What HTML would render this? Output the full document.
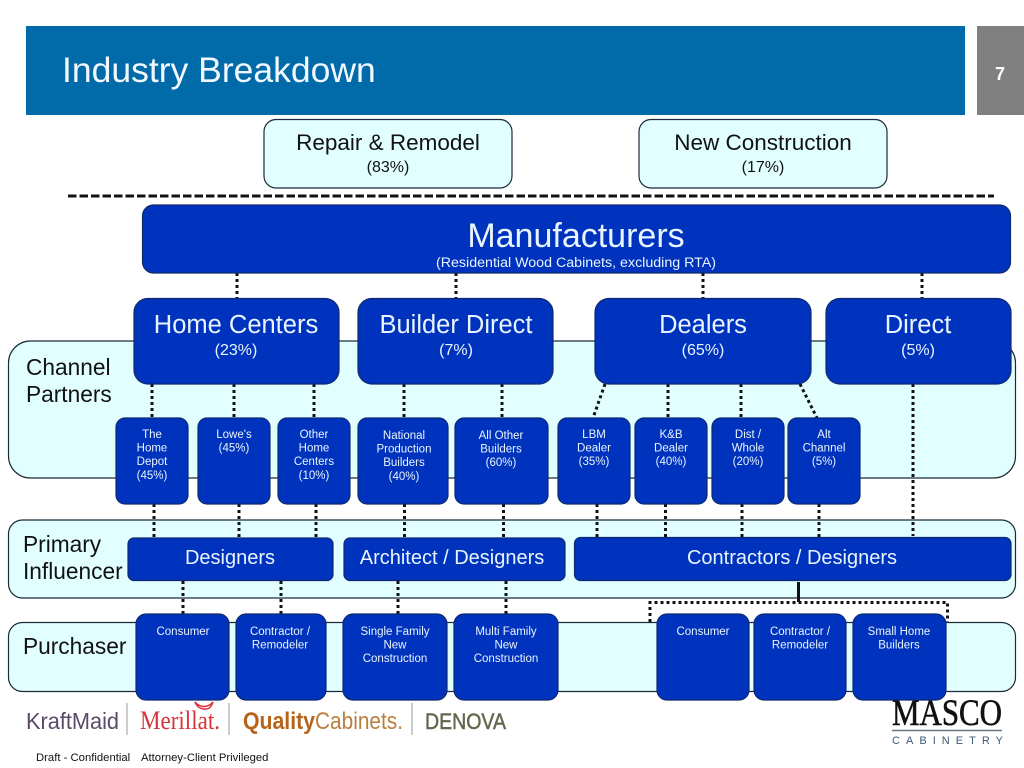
<!DOCTYPE html>
<html><head><meta charset="utf-8"><style>
html,body{margin:0;padding:0;background:#fff}
svg{display:block}
text{font-family:"Liberation Sans",sans-serif}
.b{fill:#0033bd;stroke:#0d2a6e;stroke-width:1.2}
.l{fill:#e2ffff;stroke:#1a2a3a;stroke-width:1.2}
.d{stroke:#111;stroke-width:3;stroke-dasharray:3 3;fill:none}
.w{fill:#e8f4ff;text-anchor:middle}
.k{fill:#111;text-anchor:middle}
.s{font-size:11.500px}
.serif{font-family:"Liberation Serif",serif}
</style></head><body>
<svg width="1024" height="768" viewBox="0 0 1024 768" xmlns="http://www.w3.org/2000/svg">
<rect width="1024" height="768" fill="#fff"/>
<rect x="26" y="26" width="939" height="89" fill="#006ba8"/>
<rect x="977" y="26" width="47" height="89" fill="#808080"/>
<text x="62" y="82" font-size="35.500" fill="#f2f8ff">Industry Breakdown</text>
<text x="1000" y="80" font-size="18" font-weight="bold" fill="#fff" text-anchor="middle">7</text>

<rect class="l" x="264" y="119.500" width="248" height="68.500" rx="12"/>
<rect class="l" x="639" y="119.500" width="248" height="68.500" rx="12"/>
<text class="k" x="388" y="150" font-size="22.500">Repair &amp; Remodel</text>
<text class="k" x="388" y="172" font-size="16">(83%)</text>
<text class="k" x="763" y="150" font-size="22.500">New Construction</text>
<text class="k" x="763" y="172" font-size="16">(17%)</text>
<line x1="68" y1="196" x2="994" y2="196" stroke="#111" stroke-width="3" stroke-dasharray="8.500 3"/>

<rect class="l" x="8.500" y="341" width="1007" height="137" rx="22"/>
<rect class="l" x="8.500" y="520" width="1007" height="78" rx="14"/>
<rect class="l" x="8.500" y="622.500" width="1007" height="69" rx="14"/>

<!-- logos sit beneath the purchaser boxes -->
<g stroke="#bbb" stroke-width="1.500"><path d="M127 703V735M229 703V735M412 703V735"/></g>
<text x="26" y="729" font-size="23" fill="#5a4a68" textLength="93" lengthAdjust="spacingAndGlyphs">KraftMaid</text>
<text x="140" y="729" font-size="26" fill="#d8343a" class="serif" textLength="80" lengthAdjust="spacingAndGlyphs">Merillat.</text>
<g fill="none" stroke="#d8343a" stroke-width="1.500">
<path d="M195 702c5 6 13 6 18 0c-2 5-3 7-8 7s-8-2-10-7z"/>
<path d="M198 700c4-1 7-3 8-7c2 3 3 6 5 7"/>
</g>
<text x="243" y="729" font-size="24.500" fill="#b5641a" font-weight="bold" textLength="72" lengthAdjust="spacingAndGlyphs">Quality</text>
<text x="315" y="729" font-size="24.500" fill="#b9803f" textLength="88" lengthAdjust="spacingAndGlyphs">Cabinets.</text>
<text x="425" y="729" font-size="22" fill="#66664f" stroke="#66664f" stroke-width="0.500" textLength="81" lengthAdjust="spacingAndGlyphs">DENOVA</text>
<text x="36" y="761" font-size="11.300" fill="#111">Draft - Confidential</text>
<text x="141" y="761" font-size="11.300" fill="#111">Attorney-Client Privileged</text>

<text x="892" y="725" font-size="37" fill="#111" stroke="#111" stroke-width="0.600" class="serif" textLength="110" lengthAdjust="spacingAndGlyphs">MASCO</text>
<line x1="892" y1="730.500" x2="1002" y2="730.500" stroke="#667788" stroke-width="1.500"/>
<text x="892" y="744" font-size="11" fill="#3f5877" textLength="111">CABINETRY</text>

<g class="d">
<path d="M237 273V298M456 273V298M703 273V298M922 273V298"/>
<path d="M152 384V418M234 384V418M314 384V418M404 384V418M502 384V418M605 384L593 418M668 384V418M741 384V418M800 384L817 418M913 384V536"/>
<path d="M154 504V538M239 504V538M316 504V538M404.500 504V538M503.500 504V538M597 504V537M665.500 504V537M742 504V537M819 504V537"/>
<path d="M183 581V614M281 581V614M398 581V614M506 581V614"/>
<path d="M650 622V602.500H947.500V622"/>
</g>
<line x1="798.500" y1="582" x2="798.500" y2="602" stroke="#111" stroke-width="3"/>

<rect class="b" x="142.500" y="205" width="868" height="68" rx="11"/>
<text class="w" x="576" y="247" font-size="34">Manufacturers</text>
<text class="w" x="576" y="267" font-size="14.200" textLength="280" lengthAdjust="spacingAndGlyphs">(Residential Wood Cabinets, excluding RTA)</text>

<rect class="b" x="134" y="298.500" width="205" height="85.500" rx="14"/>
<rect class="b" x="358" y="298.500" width="195" height="85.500" rx="14"/>
<rect class="b" x="595" y="298.500" width="216" height="85.500" rx="14"/>
<rect class="b" x="826" y="298.500" width="185" height="85.500" rx="14"/>
<g font-size="25.500">
<text class="w" x="236" y="333">Home Centers</text>
<text class="w" x="456" y="333">Builder Direct</text>
<text class="w" x="703" y="333">Dealers</text>
<text class="w" x="918" y="333">Direct</text>
</g>
<g font-size="16">
<text class="w" x="236" y="355">(23%)</text>
<text class="w" x="456" y="355">(7%)</text>
<text class="w" x="703" y="355">(65%)</text>
<text class="w" x="918" y="355">(5%)</text>
</g>

<rect class="b" x="116" y="418" width="72" height="86" rx="9"/>
<rect class="b" x="198" y="418" width="72" height="86" rx="9"/>
<rect class="b" x="278" y="418" width="72" height="86" rx="9"/>
<rect class="b" x="358" y="418" width="90" height="86" rx="9"/>
<rect class="b" x="455" y="418" width="93" height="86" rx="9"/>
<rect class="b" x="558" y="418" width="72" height="86" rx="9"/>
<rect class="b" x="635" y="418" width="72" height="86" rx="9"/>
<rect class="b" x="712" y="418" width="72" height="86" rx="9"/>
<rect class="b" x="788" y="418" width="72" height="86" rx="9"/>
<g class="s">
<text class="w" x="152" y="438">The</text><text class="w" x="152" y="451.500">Home</text><text class="w" x="152" y="465">Depot</text><text class="w" x="152" y="479">(45%)</text>
<text class="w" x="234" y="438">Lowe's</text><text class="w" x="234" y="451.500">(45%)</text>
<text class="w" x="314" y="438">Other</text><text class="w" x="314" y="451.500">Home</text><text class="w" x="314" y="465">Centers</text><text class="w" x="314" y="479">(10%)</text>
<text class="w" x="404" y="439">National</text><text class="w" x="404" y="452.500">Production</text><text class="w" x="404" y="466">Builders</text><text class="w" x="404" y="480">(40%)</text>
<text class="w" x="501" y="439">All Other</text><text class="w" x="501" y="452.500">Builders</text><text class="w" x="501" y="466">(60%)</text>
<text class="w" x="594" y="438">LBM</text><text class="w" x="594" y="451.500">Dealer</text><text class="w" x="594" y="465">(35%)</text>
<text class="w" x="671" y="438">K&amp;B</text><text class="w" x="671" y="451.500">Dealer</text><text class="w" x="671" y="465">(40%)</text>
<text class="w" x="748" y="438">Dist /</text><text class="w" x="748" y="451.500">Whole</text><text class="w" x="748" y="465">(20%)</text>
<text class="w" x="824" y="438">Alt</text><text class="w" x="824" y="451.500">Channel</text><text class="w" x="824" y="465">(5%)</text>
</g>

<rect class="b" x="128" y="538" width="205" height="42.500" rx="6"/>
<rect class="b" x="344" y="538" width="221" height="42.500" rx="6"/>
<rect class="b" x="574.500" y="537.500" width="436.500" height="43" rx="6"/>
<g font-size="20">
<text class="w" x="230" y="564">Designers</text>
<text class="w" x="452" y="564">Architect / Designers</text>
<text class="w" x="792" y="564">Contractors / Designers</text>
</g>

<rect class="b" x="136" y="614" width="93" height="86" rx="10"/>
<rect class="b" x="236" y="614" width="90" height="86" rx="10"/>
<rect class="b" x="343" y="614" width="104" height="86" rx="10"/>
<rect class="b" x="454" y="614" width="104" height="86" rx="10"/>
<rect class="b" x="657" y="614" width="92" height="86" rx="10"/>
<rect class="b" x="754" y="614" width="92" height="86" rx="10"/>
<rect class="b" x="853" y="614" width="93" height="86" rx="10"/>
<g class="s">
<text class="w" x="183" y="635">Consumer</text>
<text class="w" x="280" y="635">Contractor /</text><text class="w" x="280" y="648.500">Remodeler</text>
<text class="w" x="395" y="635">Single Family</text><text class="w" x="395" y="648.500">New</text><text class="w" x="395" y="662">Construction</text>
<text class="w" x="506" y="635">Multi Family</text><text class="w" x="506" y="648.500">New</text><text class="w" x="506" y="662">Construction</text>
<text class="w" x="703" y="635">Consumer</text>
<text class="w" x="800" y="635">Contractor /</text><text class="w" x="800" y="648.500">Remodeler</text>
<text class="w" x="899" y="635">Small Home</text><text class="w" x="899" y="648.500">Builders</text>
</g>

<g font-size="22.700" fill="#111">
<text x="26" y="375">Channel</text><text x="26" y="402">Partners</text>
<text x="23" y="552">Primary</text><text x="23" y="579">Influencer</text>
<text x="23" y="654">Purchaser</text>
</g>
</svg>
</body></html>
